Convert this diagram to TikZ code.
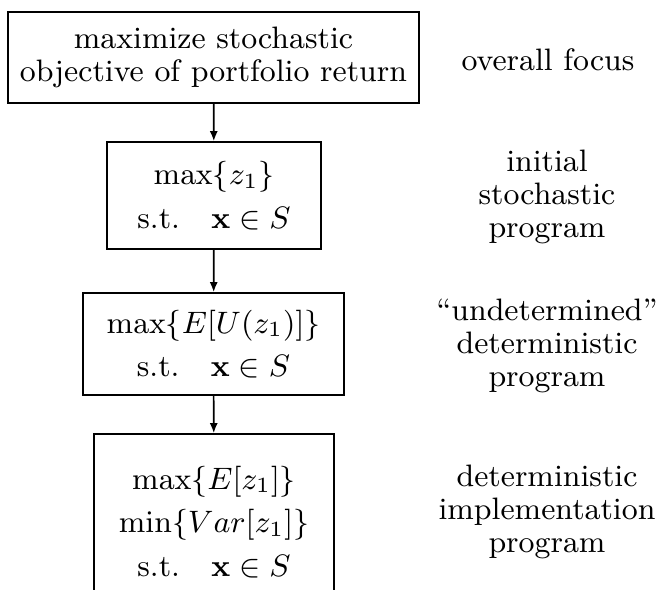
\RequirePackage{fix-cm}
\documentclass[tikz,border=0pt]{standalone}
\usetikzlibrary{arrows.meta}
\def\pxu{0.3}
\begin{document}
\begin{tikzpicture}[x=\pxu pt,y=-\pxu pt,
  every node/.style={font=\fontsize{9.3pt}{10pt}\selectfont},
  box/.style={draw,line width=0.5pt,inner sep=0pt,align=center},
  lab/.style={align=center,inner sep=0pt},
  arr/.style={-{Latex[length=3pt,width=2.4pt]},line width=0.5pt}]
\useasboundingbox (0,0) rectangle (658,589);
\node[box,minimum width={411*\pxu pt},minimum height={91*\pxu pt}] (b1) at (213.5,57.5)
  {maximize stochastic\\objective of portfolio return};
\node[box,minimum width={214*\pxu pt},minimum height={107*\pxu pt}] (b2) at (214,195.5)
  {$\max\{z_1\}$\\[3pt]s.t.\quad$\mathbf{x}\in S$};
\node[box,minimum width={261*\pxu pt},minimum height={102*\pxu pt}] (b3) at (213.5,344)
  {$\max\{E[U(z_1)]\}$\\[3pt]s.t.\quad$\mathbf{x}\in S$};
\node[box,minimum width={240*\pxu pt},minimum height={176*\pxu pt}] (b4) at (214,522)
  {$\max\{E[z_1]\}$\\[3pt]$\min\{Var[z_1]\}$\\[3pt]s.t.\quad$\mathbf{x}\in S$};
\draw[arr] (b1) -- (b2);
\draw[arr] (b2) -- (b3);
\draw[arr] (b3) -- (b4);
\node[lab] (l1) at (548,60) {overall focus};
\node[lab] (l2) at (547,197) {initial\\stochastic\\program};
\node[lab] (l3) at (547,346) {``undetermined''\\deterministic\\program};
\node[lab] (l4) at (547,512) {deterministic\\implementation\\program};
\end{tikzpicture}
\end{document}
